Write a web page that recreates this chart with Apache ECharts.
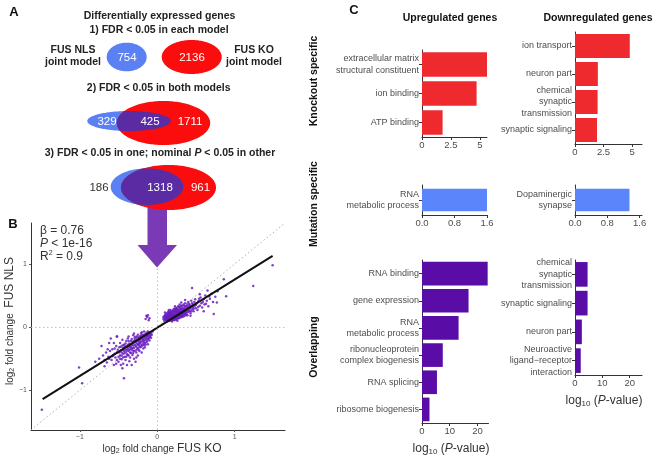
<!DOCTYPE html>
<html><head><meta charset="utf-8">
<script src="https://cdn.jsdelivr.net/npm/echarts@6/dist/echarts.min.js"></script>
<style>html,body{margin:0;padding:0;background:#fff}#c{width:654px;height:458px}</style>
</head><body><div id="c"></div>
<script>
// ---------------- DATA ----------------
const vennRow1 = [754, 2136];
const vennRow2 = [329, 425, 1711];
const vennRow3 = [186, 1318, 961];

const upKoTerms = ['extracellular matrix\nstructural constituent', 'ion binding', 'ATP binding'];
const upKoVals = [5.62, 4.72, 1.78];
const downKoTerms = ['ion transport', 'neuron part', 'chemical\nsynaptic\ntransmission', 'synaptic signaling'];
const downKoVals = [4.8, 2.0, 1.98, 1.93];
const upMutTerms = ['RNA\nmetabolic process'];
const upMutVals = [1.6];
const downMutTerms = ['Dopaminergic\nsynapse'];
const downMutVals = [1.35];
const upOvTerms = ['RNA binding', 'gene expression', 'RNA\nmetabolic process', 'ribonucleoprotein\ncomplex biogenesis', 'RNA splicing', 'ribosome biogenesis'];
const upOvVals = [23.7, 16.8, 13.2, 7.5, 5.4, 2.7];
const downOvTerms = ['chemical\nsynaptic\ntransmission', 'synaptic signaling', 'neuron part', 'Neuroactive\nligand\u2212receptor\ninteraction'];
const downOvVals = [4.6, 4.6, 2.5, 2.1];

const koTicks = [0, 2.5, 5];
const mutTicks = [0, 0.8, 1.6];
const ovTicks = [0, 10, 20];
const scatterTicks = [-1, 0, 1];

// log2 fold change: [FUS KO, FUS NLS]
const upPoints = [
[0.10,0.12],[0.11,0.15],[0.12,0.18],[0.12,0.11],[0.13,0.14],[0.13,0.20],[0.14,0.12],[0.14,0.17],[0.15,0.22],[0.15,0.10],
[0.16,0.15],[0.16,0.19],[0.17,0.13],[0.17,0.24],[0.18,0.17],[0.18,0.11],[0.19,0.21],[0.19,0.14],[0.20,0.18],[0.20,0.26],
[0.21,0.12],[0.21,0.16],[0.22,0.21],[0.22,0.29],[0.23,0.15],[0.23,0.19],[0.24,0.24],[0.24,0.13],[0.25,0.18],[0.25,0.30],
[0.26,0.22],[0.26,0.16],[0.27,0.26],[0.27,0.20],[0.28,0.14],[0.28,0.32],[0.29,0.24],[0.29,0.18],[0.30,0.28],[0.30,0.21],
[0.31,0.16],[0.31,0.34],[0.32,0.25],[0.32,0.19],[0.33,0.29],[0.33,0.22],[0.34,0.36],[0.34,0.17],[0.35,0.26],[0.35,0.31],
[0.36,0.21],[0.36,0.38],[0.37,0.28],[0.38,0.24],[0.38,0.33],[0.39,0.19],[0.40,0.30],[0.40,0.40],[0.41,0.26],[0.42,0.35],
[0.43,0.22],[0.43,0.31],[0.44,0.42],[0.45,0.28],[0.46,0.36],[0.47,0.25],[0.48,0.33],[0.49,0.44],[0.50,0.30],[0.51,0.38],
[0.52,0.27],[0.53,0.41],[0.55,0.34],[0.56,0.47],[0.58,0.31],[0.59,0.40],[0.61,0.36],[0.62,0.50],[0.64,0.42],[0.66,0.33],
[0.68,0.45],[0.70,0.53],[0.72,0.40],[0.75,0.48],[0.78,0.57],[0.08,0.13],[0.09,0.17],[0.11,0.20],[0.13,0.09],[0.15,0.27],
[0.17,0.19],[0.19,0.09],[0.20,0.22],[0.22,0.11],[0.24,0.27],[0.26,0.10],[0.27,0.33],[0.18,0.23],[0.21,0.25],[0.16,0.12],
[0.14,0.24],[0.23,0.23],[0.25,0.14],[0.28,0.27],[0.30,0.17],[0.29,0.36],[0.32,0.30],[0.34,0.24],[0.37,0.19],[0.39,0.36],
[0.42,0.29],[0.12,0.16],[0.15,0.18],[0.18,0.15],[0.20,0.14],[0.22,0.17],[0.25,0.21],[0.27,0.17],[0.31,0.23],[0.35,0.22],
[0.38,0.28],[0.41,0.33],[0.44,0.25],[0.46,0.31],[0.48,0.40],[0.60,0.25],[0.65,0.58],[0.55,0.52],[0.45,0.62],
[0.09,0.10],[0.10,0.14],[0.10,0.19],[0.11,0.12],[0.11,0.17],[0.12,0.14],[0.12,0.22],[0.13,0.12],[0.13,0.17],[0.14,0.10],
[0.14,0.15],[0.14,0.20],[0.15,0.13],[0.15,0.16],[0.15,0.24],[0.16,0.10],[0.16,0.17],[0.16,0.22],[0.17,0.15],[0.17,0.21],
[0.17,0.27],[0.18,0.13],[0.18,0.19],[0.18,0.25],[0.19,0.11],[0.19,0.17],[0.19,0.23],[0.20,0.12],[0.20,0.16],[0.20,0.20],
[0.21,0.14],[0.21,0.19],[0.21,0.28],[0.22,0.14],[0.22,0.19],[0.22,0.24],[0.23,0.12],[0.23,0.17],[0.23,0.26],[0.24,0.16],
[0.24,0.20],[0.24,0.30],[0.25,0.12],[0.25,0.24],[0.25,0.27],[0.26,0.19],[0.26,0.25],[0.26,0.29],[0.27,0.14],[0.27,0.23],
[0.28,0.18],[0.28,0.21],[0.28,0.24],[0.29,0.15],[0.29,0.21],[0.29,0.29],[0.30,0.19],[0.30,0.24],[0.30,0.32],[0.31,0.20],
[0.31,0.27],[0.32,0.16],[0.32,0.22],[0.32,0.34],[0.33,0.19],[0.33,0.26],[0.34,0.21],[0.34,0.28],[0.35,0.18],[0.35,0.34],
[0.36,0.25],[0.36,0.29],[0.37,0.23],[0.37,0.33],[0.38,0.21],[0.39,0.27],[0.39,0.31],[0.40,0.24],[0.41,0.37],[0.42,0.25],
[0.44,0.33],[0.45,0.38],[0.47,0.29],[0.50,0.35],[0.53,0.32],[0.57,0.38],[0.60,0.44],[0.63,0.37],[0.67,0.49],[0.54,0.45],
[0.36,0.43],[0.31,0.39],[0.23,0.33],[0.43,0.18],[0.10,0.23],[0.08,0.16],
[-0.15,0.13],[-0.13,0.16],[-0.12,0.19],[-0.10,0.14],[-0.14,0.18],[-0.11,0.11]
];
const downPoints = [
[-0.08,-0.10],[-0.09,-0.14],[-0.10,-0.08],[-0.11,-0.18],[-0.12,-0.12],[-0.13,-0.22],[-0.14,-0.09],[-0.15,-0.16],[-0.16,-0.25],[-0.17,-0.12],
[-0.18,-0.20],[-0.19,-0.29],[-0.20,-0.14],[-0.21,-0.23],[-0.22,-0.32],[-0.23,-0.18],[-0.24,-0.27],[-0.25,-0.12],[-0.26,-0.35],[-0.27,-0.21],
[-0.28,-0.30],[-0.29,-0.16],[-0.30,-0.38],[-0.31,-0.25],[-0.32,-0.33],[-0.33,-0.19],[-0.34,-0.41],[-0.35,-0.28],[-0.36,-0.36],[-0.37,-0.22],
[-0.38,-0.44],[-0.39,-0.31],[-0.40,-0.39],[-0.41,-0.26],[-0.42,-0.47],[-0.43,-0.34],[-0.44,-0.42],[-0.45,-0.29],[-0.46,-0.51],[-0.47,-0.37],
[-0.48,-0.45],[-0.49,-0.32],[-0.50,-0.55],[-0.52,-0.40],[-0.54,-0.48],[-0.55,-0.34],[-0.57,-0.44],[-0.59,-0.52],[-0.61,-0.38],[-0.63,-0.47],
[-0.65,-0.56],[-0.06,-0.07],[-0.10,-0.21],[-0.13,-0.15],[-0.15,-0.28],[-0.17,-0.07],[-0.19,-0.18],[-0.21,-0.10],[-0.22,-0.26],[-0.24,-0.36],
[-0.26,-0.17],[-0.27,-0.40],[-0.29,-0.23],[-0.31,-0.13],[-0.32,-0.44],[-0.34,-0.30],[-0.35,-0.48],[-0.37,-0.15],[-0.38,-0.34],[-0.40,-0.22],
[-0.41,-0.52],[-0.43,-0.28],[-0.44,-0.58],[-0.46,-0.40],[-0.48,-0.25],[-0.50,-0.47],[-0.53,-0.30],[-0.56,-0.60],[-0.58,-0.35],[-0.62,-0.25],
[-0.66,-0.40],[-0.70,-0.45],[-0.72,-0.30],[-0.75,-0.50],[-0.08,-0.17],[-0.12,-0.27],[-0.18,-0.34],[-0.20,-0.40],[-0.25,-0.45],[-0.30,-0.50],
[-0.36,-0.54],[-0.39,-0.60],[-0.45,-0.65],[-0.33,-0.60],[-0.28,-0.55],[-0.52,-0.15],[-0.60,-0.18],[-0.80,-0.55],[-0.68,-0.62],
[-0.09,-0.12],[-0.10,-0.16],[-0.11,-0.10],[-0.11,-0.14],[-0.12,-0.19],[-0.13,-0.11],[-0.13,-0.18],[-0.14,-0.13],[-0.14,-0.24],[-0.15,-0.11],
[-0.15,-0.20],[-0.16,-0.14],[-0.16,-0.18],[-0.17,-0.22],[-0.17,-0.28],[-0.18,-0.15],[-0.18,-0.25],[-0.19,-0.12],[-0.19,-0.22],[-0.20,-0.18],
[-0.20,-0.28],[-0.21,-0.16],[-0.21,-0.31],[-0.22,-0.20],[-0.22,-0.14],[-0.23,-0.24],[-0.23,-0.30],[-0.24,-0.16],[-0.24,-0.22],[-0.25,-0.28],
[-0.25,-0.33],[-0.26,-0.21],[-0.26,-0.26],[-0.27,-0.15],[-0.27,-0.31],[-0.28,-0.24],[-0.28,-0.37],[-0.29,-0.19],[-0.29,-0.28],[-0.30,-0.22],
[-0.30,-0.33],[-0.31,-0.29],[-0.31,-0.41],[-0.32,-0.23],[-0.32,-0.37],[-0.33,-0.27],[-0.33,-0.34],[-0.34,-0.22],[-0.34,-0.35],[-0.35,-0.32],
[-0.35,-0.40],[-0.36,-0.26],[-0.36,-0.31],[-0.37,-0.38],[-0.37,-0.45],[-0.38,-0.28],[-0.39,-0.36],[-0.39,-0.43],[-0.40,-0.31],[-0.40,-0.47],
[-0.41,-0.36],[-0.42,-0.30],[-0.42,-0.41],[-0.43,-0.38],[-0.44,-0.33],[-0.44,-0.48],[-0.45,-0.36],[-0.46,-0.45],[-0.47,-0.31],[-0.48,-0.50],
[-0.49,-0.40],[-0.51,-0.36],[-0.52,-0.52],[-0.55,-0.42],[-0.58,-0.46],[-0.62,-0.50],[-0.64,-0.35],[-0.68,-0.52],[-0.53,-0.58],[-0.47,-0.60],
[-0.27,-0.48],[-0.23,-0.38],[-0.16,-0.32],[-0.45,-0.20],[-0.38,-0.18],[-0.56,-0.25],[-0.30,-0.10],[-0.07,-0.12],[-0.12,-0.07],[-0.20,-0.08]
];
const outlierPoints = [
[1.49,0.98],[1.24,0.65],[0.86,0.76],[0.89,0.49],[0.77,0.39],[0.73,0.21],
[-1.01,-0.64],[-0.97,-0.89],[-1.49,-1.31],[-0.43,-0.81],[-0.52,-0.15]
];
const fitKO = [-1.48, 1.49];
const fitNLS = [-1.14, 1.13];
const identityLine = [-1.63, 1.65];

// ---------------- LAYOUT / STYLE ----------------
const FONT = '"Liberation Sans", Arial, Helvetica, sans-serif';
const RED = '#ee2a2e', BLUE = '#5b86fb', PURPLE = '#5a0ca6';
const VRED = '#fb0d0d', VBLUE = '#5b80f4', VPURP = '#5a2ba3';

const grid = [], xAxis = [], yAxis = [], series = [];

function barPanel(terms, vals, color, box, max, ticks, fmt) {
  const idx = grid.length;
  const n = terms.length;
  const band = box.height / (n + 0.2);
  grid.push({left: box.left, top: box.top, width: box.width, height: box.height});
  xAxis.push({
    gridIndex: idx, type: 'value', min: 0, max: max,
    axisLine: {show: true, onZero: false, lineStyle: {color: '#333', width: 1}},
    axisTick: {show: true, length: 3, customValues: ticks, lineStyle: {color: '#333'}},
    axisLabel: {customValues: ticks, formatter: fmt, color: '#4d4d4d', fontSize: 9.5, margin: 3, fontFamily: FONT},
    splitLine: {show: false}
  });
  yAxis.push({
    gridIndex: idx, type: 'category', data: terms, inverse: true,
    axisLine: {show: true, lineStyle: {color: '#333', width: 1}},
    axisTick: {show: true, alignWithLabel: true, length: 3, lineStyle: {color: '#333'}},
    axisLabel: {interval: 0, color: '#4d4d4d', fontSize: 9, lineHeight: 11.5, margin: 3, fontFamily: FONT}
  });
  series.push({type: 'bar', xAxisIndex: idx, yAxisIndex: idx, data: vals, barWidth: band * 0.9,
    itemStyle: {color: color}, silent: true, animation: false});
}

const f1 = v => (v === 0 ? '0' : String(v));
const f2 = v => v.toFixed(1);
barPanel(upKoTerms, upKoVals, RED, {left: 422, top: 50, width: 65, height: 87}, 5.62, koTicks, f1);
barPanel(downKoTerms, downKoVals, RED, {left: 575, top: 32, width: 67, height: 112}, 5.87, koTicks, f1);
barPanel(upMutTerms, upMutVals, BLUE, {left: 422, top: 185, width: 65, height: 30}, 1.6, mutTicks, f2);
barPanel(downMutTerms, downMutVals, BLUE, {left: 575, top: 185, width: 67, height: 30}, 1.66, mutTicks, f2);
barPanel(upOvTerms, upOvVals, PURPLE, {left: 422, top: 260, width: 66.5, height: 163}, 24, ovTicks, f1);
barPanel(downOvTerms, downOvVals, PURPLE, {left: 575, top: 260, width: 67, height: 115}, 24.5, ovTicks, f1);

// scatter panel
const si = grid.length;
grid.push({left: 31, top: 223, width: 254, height: 207});
const scAxis = (idx) => ({
  gridIndex: idx, type: 'value', min: -1.63, max: 1.65,
  axisLine: {show: true, onZero: false, lineStyle: {color: '#333', width: 1}},
  axisTick: {show: true, length: 2, customValues: scatterTicks, lineStyle: {color: '#555'}},
  axisLabel: {customValues: scatterTicks, formatter: v => (v < 0 ? '\u2212' + Math.abs(v) : String(v)), color: '#555', fontSize: 7, margin: 4, fontFamily: FONT},
  splitLine: {show: false}
});
xAxis.push(scAxis(si));
yAxis.push(scAxis(si));
series.push({type: 'line', xAxisIndex: si, yAxisIndex: si, data: [[identityLine[0], identityLine[0]], [identityLine[1], identityLine[1]]],
  symbol: 'none', lineStyle: {color: '#9a9a9a', width: 0.8, type: [1.5, 2.5]}, silent: true, animation: false, z: 1,
  markLine: {symbol: 'none', silent: true, animation: false, label: {show: false},
    lineStyle: {color: '#b5b5b5', width: 0.8, type: [1.5, 2.5]}, data: [{xAxis: 0}, {yAxis: 0}]}});
const pts = upPoints.concat(downPoints, outlierPoints);
series.push({type: 'scatter', xAxisIndex: si, yAxisIndex: si, data: pts, symbolSize: 2.5,
  itemStyle: {color: '#6a1fc0', opacity: 0.85}, silent: true, animation: false, z: 2});
series.push({type: 'line', xAxisIndex: si, yAxisIndex: si, data: [[fitKO[0], fitNLS[0]], [fitKO[1], fitNLS[1]]],
  symbol: 'none', lineStyle: {color: '#111', width: 2}, silent: true, animation: false, z: 3});

// ---------------- GRAPHICS ----------------
function ellPts(e, n) {
  const p = [];
  for (let i = 0; i < n; i++) { const t = 2 * Math.PI * i / n; p.push([e.cx + e.rx * Math.cos(t), e.cy + e.ry * Math.sin(t)]); }
  return p;
}
function inside(e, p) { const dx = (p[0] - e.cx) / e.rx, dy = (p[1] - e.cy) / e.ry; return dx * dx + dy * dy <= 1.0001; }
function intersect(a, b) {
  const p = ellPts(a, 720).filter(q => inside(b, q)).concat(ellPts(b, 720).filter(q => inside(a, q)));
  let cx = 0, cy = 0; p.forEach(q => { cx += q[0]; cy += q[1]; }); cx /= p.length; cy /= p.length;
  p.sort((u, v) => Math.atan2(u[1] - cy, u[0] - cx) - Math.atan2(v[1] - cy, v[0] - cx));
  return p;
}
const poly = (points, fill, z) => ({type: 'polygon', shape: {points}, style: {fill}, z, silent: true});
const txt = (text, x, y, o) => Object.assign({type: 'text', x, y, z: 100, silent: true,
  style: Object.assign({text, fill: '#222', fontSize: 10, fontFamily: FONT, align: 'center', verticalAlign: 'middle'}, (o || {}).style || {})},
  (o && o.rotation) ? {rotation: o.rotation} : {});

const g = [];
// arrow
g.push(poly([[147.5, 196], [167, 196], [167, 245], [177, 245], [157, 267.5], [137.5, 245], [147.5, 245]], '#7a3ab6', 40));

// Venn row 1
const e1b = {cx: 126.7, cy: 57, rx: 20, ry: 14.3}, e1r = {cx: 191.7, cy: 57, rx: 30, ry: 17};
g.push(poly(ellPts(e1b, 180), VBLUE, 50), poly(ellPts(e1r, 180), VRED, 50));
// Venn row 2
const e2b = {cx: 129, cy: 121, rx: 41.7, ry: 10}, e2r = {cx: 163.5, cy: 123, rx: 46.7, ry: 22};
g.push(poly(ellPts(e2b, 180), VBLUE, 50), poly(ellPts(e2r, 180), VRED, 51), poly(intersect(e2b, e2r), VPURP, 52));
// Venn row 3
const e3b = {cx: 147, cy: 186.7, rx: 36.3, ry: 18.3}, e3r = {cx: 168.5, cy: 187.5, rx: 47.5, ry: 22.5};
g.push(poly(ellPts(e3b, 180), VBLUE, 50), poly(ellPts(e3r, 180), VRED, 51), poly(intersect(e3b, e3r), VPURP, 52));

const bold = {fontWeight: 'bold', fontSize: 10.5};
const white = {fill: '#fff', fontSize: 11.5};
g.push(txt('A', 14, 12, {style: {fontWeight: 'bold', fontSize: 13, fill: '#111'}}));
g.push(txt('B', 13, 224, {style: {fontWeight: 'bold', fontSize: 13, fill: '#111'}}));
g.push(txt('C', 354, 10, {style: {fontWeight: 'bold', fontSize: 13, fill: '#111'}}));
g.push(txt('Differentially expressed genes', 159.5, 16, {style: bold}));
g.push(txt('1) FDR < 0.05 in each model', 159, 30, {style: bold}));
g.push(txt('FUS NLS', 73, 50.5, {style: bold}), txt('joint model', 73, 62.5, {style: bold}));
g.push(txt('FUS KO', 254, 50.5, {style: bold}), txt('joint model', 254, 62.5, {style: bold}));
g.push(txt(String(vennRow1[0]), 127, 57.5, {style: white}), txt(String(vennRow1[1]), 192, 57.5, {style: white}));
g.push(txt('2) FDR < 0.05 in both models', 158.7, 88.5, {style: bold}));
g.push(txt(String(vennRow2[0]), 107, 121.5, {style: white}), txt(String(vennRow2[1]), 150, 121.5, {style: white}), txt(String(vennRow2[2]), 190, 121.5, {style: white}));
g.push(txt('{b|3) FDR < 0.05 in one; nominal }{i|P}{b| < 0.05 in other}', 160, 153.5, {style: {rich: {
  b: {fontWeight: 'bold', fontSize: 10.5, fontFamily: FONT, fill: '#222'},
  i: {fontWeight: 'bold', fontStyle: 'italic', fontSize: 10.5, fontFamily: FONT, fill: '#222'}}}}));
g.push(txt(String(vennRow3[0]), 99, 187.5, {style: {fill: '#333', fontSize: 11.5}}), txt(String(vennRow3[1]), 160, 187.5, {style: white}), txt(String(vennRow3[2]), 200.5, 187.5, {style: white}));

// scatter annotations
const st = {fill: '#333', fontSize: 12, align: 'left', fontFamily: FONT};
g.push(txt('\u03b2 = 0.76', 40, 231, {style: st}));
g.push(txt('{i|P}{a| < 1e-16}', 40, 244, {style: {align: 'left', rich: {i: {fontStyle: 'italic', fontSize: 12, fill: '#333', fontFamily: FONT}, a: {fontSize: 12, fill: '#333', fontFamily: FONT}}}}));
g.push(txt('{a|R}{s|2}{a| = 0.9}', 40, 257, {style: {align: 'left', rich: {a: {fontSize: 12, fill: '#333', fontFamily: FONT}, s: {fontSize: 7, fill: '#333', fontFamily: FONT, verticalAlign: 'top', lineHeight: 14}}}}));
const labRich = {a: {fontSize: 10, fill: '#333', fontFamily: FONT}, s: {fontSize: 7, fill: '#333', fontFamily: FONT, verticalAlign: 'bottom', lineHeight: 12}, b: {fontSize: 12, fill: '#333', fontFamily: FONT}, i: {fontSize: 12, fontStyle: 'italic', fill: '#333', fontFamily: FONT}};
g.push(txt('{a|log}{s|2}{a| fold change }{b|FUS KO}', 162, 449, {style: {rich: labRich}}));
g.push(txt('{a|log}{s|2}{a| fold change  }{b|FUS NLS}', 10, 321, {style: {rich: labRich}, rotation: Math.PI / 2}));

// panel C headers
const hb = {fontWeight: 'bold', fontSize: 10.5, fill: '#111'};
g.push(txt('Upregulated genes', 450, 18, {style: hb}), txt('Downregulated genes', 598, 18, {style: hb}));
g.push(txt('Knockout specific', 314, 81, {style: hb, rotation: Math.PI / 2}));
g.push(txt('Mutation specific', 314, 204, {style: hb, rotation: Math.PI / 2}));
g.push(txt('Overlapping', 314, 347, {style: hb, rotation: Math.PI / 2}));
const pRich = {a: {fontSize: 12, fill: '#333', fontFamily: FONT}, s: {fontSize: 8, fill: '#333', fontFamily: FONT, verticalAlign: 'bottom', lineHeight: 14}, i: {fontSize: 12, fontStyle: 'italic', fill: '#333', fontFamily: FONT}};
g.push(txt('{a|log}{s|10}{a| (}{i|P}{a|-value)}', 451, 449, {style: {rich: pRich}}));
g.push(txt('{a|log}{s|10}{a| (}{i|P}{a|-value)}', 604, 401, {style: {rich: pRich}}));

const chart = echarts.init(document.getElementById('c'), null, {renderer: 'canvas'});
chart.setOption({
  animation: false,
  backgroundColor: '#fff',
  textStyle: {fontFamily: FONT},
  grid, xAxis, yAxis, series,
  graphic: {elements: g}
});
</script>
</body></html>
